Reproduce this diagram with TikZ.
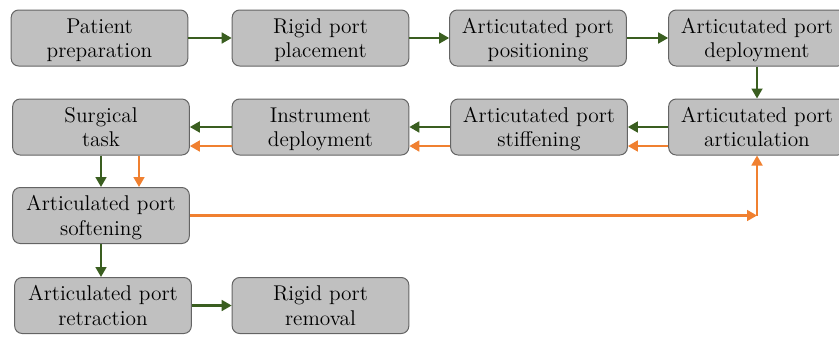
\documentclass[tikz,border=0pt]{standalone}
\usetikzlibrary{arrows.meta,calc}
\definecolor{stepfill}{RGB}{192,192,192}
\definecolor{stepline}{RGB}{100,100,100}
\definecolor{flowgreen}{RGB}{58,94,32}
\definecolor{floworange}{RGB}{240,128,48}
\begin{document}
\begin{tikzpicture}[x=0.6pt,y=-0.6pt,
  stepbox/.style={draw=stepline,fill=stepfill,line width=0.6pt,rounded corners=4.5pt,
    minimum width=106pt,minimum height=33.6pt,inner sep=1pt,align=center,
    font=\fontsize{12.8}{14.6}\selectfont,text depth=0pt},
  gflow/.style={draw=flowgreen,line width=1.3pt,-{Triangle[length=6pt,width=6.5pt]}},
  oflow/.style={draw=floworange,line width=1.3pt,-{Triangle[length=6pt,width=6.5pt]}}]
\useasboundingbox (0,0) rectangle (839,336);
% first row
\node[stepbox] (A1) at (99.5,38) {Patient\\preparation};
\node[stepbox] (A2) at (320.5,38) {Rigid port\\placement};
\node[stepbox] (A3) at (538,38) {Articutated port\\positioning};
\node[stepbox] (A4) at (757,38) {Articutated port\\deployment};
% second row
\node[stepbox] (B1) at (101,127) {Surgical\\task};
\node[stepbox] (B2) at (320.5,127) {Instrument\\deployment};
\node[stepbox] (B3) at (539,127) {Articutated port\\stiffening};
\node[stepbox] (B4) at (757,127) {Articutated port\\articulation};
% lower rows
\node[stepbox] (C1) at (101,215.5) {Articulated port\\softening};
\node[stepbox] (D1) at (103,305.5) {Articulated port\\retraction};
\node[stepbox] (D2) at (320.5,305.5) {Rigid port\\removal};
% main sequence
\draw[gflow] (A1) -- (A2);
\draw[gflow] (A2) -- (A3);
\draw[gflow] (A3) -- (A4);
\draw[gflow] (A4) -- (B4);
\draw[gflow] (B4) -- (B3);
\draw[gflow] (B3) -- (B2);
\draw[gflow] (B2) -- (B1);
\draw[gflow] (B1) -- (C1);
\draw[gflow] (C1.south) -- (C1.south |- D1.north);
\draw[gflow] (D1) -- (D2);
% repositioning loop
\draw[oflow] ($(B4.west)+(0,19)$) -- ($(B3.east)+(0,19)$);
\draw[oflow] ($(B3.west)+(0,19)$) -- ($(B2.east)+(0,19)$);
\draw[oflow] ($(B2.west)+(0,19)$) -- ($(B1.east)+(0,19)$);
\draw[oflow] ($(B1.south)+(38,0)$) -- ($(C1.north)+(38,0)$);
\coordinate (turn) at (B4.south |- C1.east);
\draw[oflow] (C1.east) -- (turn);
\draw[oflow] (turn) -- (B4.south);
\end{tikzpicture}
\end{document}
